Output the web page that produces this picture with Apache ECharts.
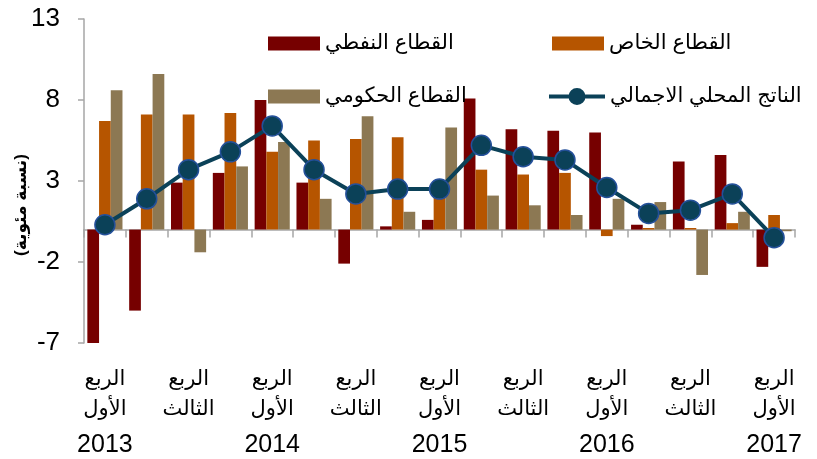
<!DOCTYPE html>
<html>
<head>
<meta charset="utf-8">
<script src="https://cdn.jsdelivr.net/npm/echarts@6/dist/echarts.min.js"></script>
<style>html,body{margin:0;padding:0;background:#fff}#c{width:817px;height:459px}</style>
</head>
<body>
<div id="c"></div>
<script>
const categories = [
  "الربع الأول 2013","الربع الثاني 2013","الربع الثالث 2013","الربع الرابع 2013",
  "الربع الأول 2014","الربع الثاني 2014","الربع الثالث 2014","الربع الرابع 2014",
  "الربع الأول 2015","الربع الثاني 2015","الربع الثالث 2015","الربع الرابع 2015",
  "الربع الأول 2016","الربع الثاني 2016","الربع الثالث 2016","الربع الرابع 2016",
  "الربع الأول 2017"
];
const seriesNames = ["القطاع النفطي","القطاع الخاص","القطاع الحكومي","الناتج المحلي الاجمالي"];
const oilSector = [-7.1, -5.0, 2.9, 3.5, 8.0, 2.9, -2.1, 0.2, 0.6, 8.1, 6.2, 6.1, 6.0, 0.3, 4.2, 4.6, -2.3];
const privateSector = [6.7, 7.1, 7.1, 7.2, 4.8, 5.5, 5.6, 5.7, 2.6, 3.7, 3.4, 3.5, -0.4, 0.1, 0.1, 0.4, 0.9];
const governmentSector = [8.6, 9.6, -1.4, 3.9, 5.4, 1.9, 7.0, 1.1, 6.3, 2.1, 1.5, 0.9, 1.9, 1.7, -2.8, 1.1, -0.1];
const gdp = [0.3, 1.9, 3.7, 4.8, 6.4, 3.7, 2.2, 2.5, 2.5, 5.2, 4.5, 4.3, 2.6, 1.0, 1.2, 2.2, -0.5];
const yTicks = [-7, -2, 3, 8, 13];
const yAxisTitle = "(نسبة مئوية)";

const FONT = "'Liberation Sans', Arial, 'DejaVu Sans', sans-serif";
const colors = ["#760000", "#B65500", "#8C7853", "#0B4158"];
const lineMarkerIcon = 'path://M0,6.5H56V10.5H0Z M19.5,8.5A8.5,8.5,0,1,1,36.5,8.5A8.5,8.5,0,1,1,19.5,8.5Z';

const chart = echarts.init(document.getElementById('c'), null, {renderer: 'canvas'});

function legendAt(name, left, top, extra) {
  return Object.assign({
    data: [name], left: left, top: top, padding: 0,
    icon: 'rect',
    itemWidth: 52, itemHeight: 14, itemGap: 0,
    textStyle: {fontFamily: FONT, fontSize: 21, color: '#000'},
    selectedMode: false
  }, extra || {});
}

const option = {
  animation: false,
  backgroundColor: '#fff',
  grid: {left: 84, right: 22, top: 19, bottom: 116, containLabel: false},
  legend: [
    legendAt(seriesNames[0], 268, 33),
    legendAt(seriesNames[1], 552, 33),
    legendAt(seriesNames[2], 268, 86),
    legendAt(seriesNames[3], 549, 86, {icon: lineMarkerIcon, itemWidth: 56, itemHeight: 17,
      itemStyle: {color: colors[3], borderColor: '#24509A', borderWidth: 0}})
  ],
  xAxis: [
    {
      type: 'category', data: categories, position: 'top',
      axisLine: {onZero: true, lineStyle: {color: '#A6A6A6', width: 1.5}},
      axisTick: {show: true, inside: true, length: 8, interval: 0, lineStyle: {color: '#A6A6A6', width: 1.5}},
      axisLabel: {show: false}, splitLine: {show: false}
    },
    {
      type: 'category', data: categories, position: 'bottom', gridIndex: 0,
      axisLine: {show: false}, axisTick: {show: false}, splitLine: {show: false},
      axisLabel: {
        interval: 1, margin: 21, color: '#000',
        formatter: function (v) {
          const p = v.split(' ');
          let s = '{a|' + p[0] + '}\n{a|' + p[1] + '}';
          if (p[1] === 'الأول') s += '\n{y|' + p[2] + '}';
          return s;
        },
        rich: {
          a: {fontFamily: FONT, fontSize: 21, lineHeight: 30, color: '#000'},
          y: {fontFamily: FONT, fontSize: 25, lineHeight: 42, color: '#000'}
        }
      }
    }
  ],
  yAxis: {
    type: 'value', min: yTicks[0], max: yTicks[yTicks.length - 1], interval: 5,
    axisLine: {show: true, lineStyle: {color: '#A6A6A6', width: 1.5}},
    axisTick: {show: true, length: 6, lineStyle: {color: '#A6A6A6', width: 1.5}},
    splitLine: {show: false},
    axisLabel: {margin: 24, fontFamily: FONT, fontSize: 26, color: '#000'}
  },
  graphic: [{
    type: 'text', x: 21, y: 205, rotation: Math.PI / 2,
    style: {text: yAxisTitle, fontFamily: FONT, fontSize: 17, fontWeight: 'bold', fill: '#000', align: 'center', verticalAlign: 'middle'}
  }],
  series: [
    {name: seriesNames[0], type: 'bar', data: oilSector, xAxisIndex: 0, barGap: '0%', barCategoryGap: '16%', itemStyle: {color: colors[0]}},
    {name: seriesNames[1], type: 'bar', data: privateSector, xAxisIndex: 0, barGap: '0%', barCategoryGap: '16%', itemStyle: {color: colors[1]}},
    {name: seriesNames[2], type: 'bar', data: governmentSector, xAxisIndex: 0, barGap: '0%', barCategoryGap: '16%', itemStyle: {color: colors[2]}},
    {name: seriesNames[3], type: 'line', data: gdp, xAxisIndex: 0, z: 5,
     symbol: 'circle', symbolSize: 20,
     lineStyle: {color: colors[3], width: 4},
     itemStyle: {color: colors[3], borderColor: '#24509A', borderWidth: 1.5}}
  ]
};
chart.setOption(option);
</script>
</body>
</html>
